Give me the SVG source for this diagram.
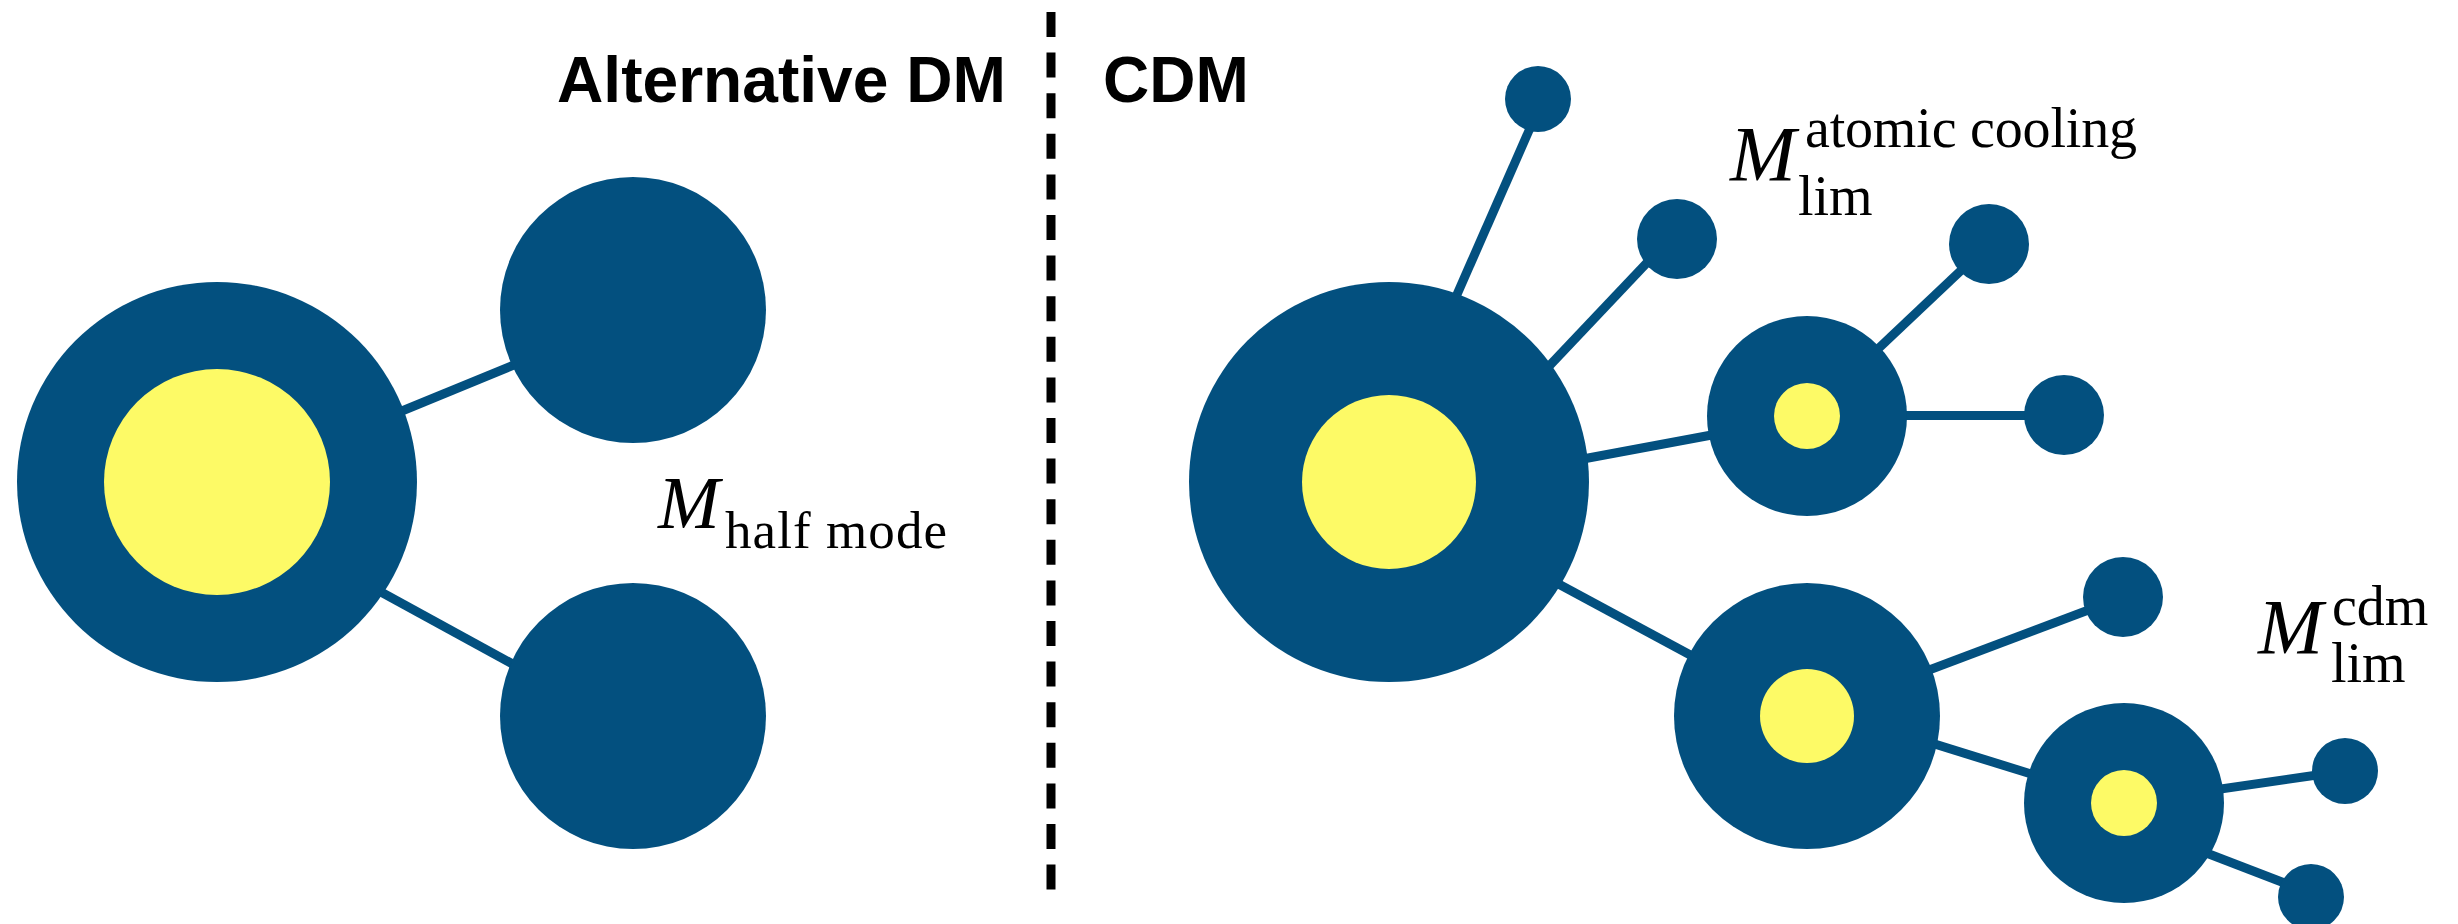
<svg xmlns="http://www.w3.org/2000/svg" width="2458" height="924" viewBox="0 0 2458 924">
  <style>
    .halo { fill: #03507f; }
    .core { fill: #fdfa66; }
    .link { stroke: #03507f; stroke-width: 9; stroke-linecap: butt; fill: none; }
    .divider { stroke: #000; stroke-width: 9; stroke-dasharray: 25 15.6; fill: none; }
    .title { font-family: "Liberation Sans", Arial, sans-serif; font-weight: bold; font-size: 64px; fill: #000; }
    .math { font-family: "Liberation Serif", "Times New Roman", serif; fill: #000; }
    .sym { font-style: italic; }
  </style>

  <rect width="2458" height="924" fill="#fff"/>

  <!-- panel divider -->
  <line class="divider" x1="1051" y1="12" x2="1051" y2="890"/>

  <!-- panel titles -->
  <text id="title-alt" class="title" x="557" y="102" textLength="449" lengthAdjust="spacingAndGlyphs">Alternative DM</text>
  <text id="title-cdm" class="title" x="1103" y="102">CDM</text>

  <!-- merger-tree branches (drawn beneath the halos) -->
  <g id="connectors">
    <!-- alternative DM tree -->
    <line class="link" x1="380" y1="420" x2="560" y2="346"/>
    <line class="link" x1="370" y1="586" x2="540" y2="679"/>
    <!-- CDM tree -->
    <line class="link" x1="1437" y1="340" x2="1538" y2="110"/>
    <line class="link" x1="1500" y1="418" x2="1677" y2="231"/>
    <line class="link" x1="1540" y1="467" x2="1760" y2="426"/>
    <line class="link" x1="1807" y1="416" x2="1989" y2="244"/>
    <line class="link" x1="1807" y1="415.5" x2="2064" y2="415.5"/>
    <line class="link" x1="1540" y1="574" x2="1720" y2="671"/>
    <line class="link" x1="1807" y1="716" x2="2123" y2="597"/>
    <line class="link" x1="1880" y1="727" x2="2060" y2="783"/>
    <line class="link" x1="2124" y1="803" x2="2345" y2="771"/>
    <line class="link" x1="2170" y1="839" x2="2300" y2="889"/>
  </g>

  <!-- alternative DM halos -->
  <g id="alt-main">
    <circle class="halo" cx="217" cy="482" r="200"/>
    <circle class="core" cx="217" cy="482" r="113"/>
  </g>
  <g id="alt-progenitor-upper">
    <circle class="halo" cx="633" cy="310" r="133"/>
  </g>
  <g id="alt-progenitor-lower">
    <circle class="halo" cx="633" cy="716" r="133"/>
  </g>

  <!-- CDM halos -->
  <g id="cdm-main">
    <circle class="halo" cx="1389" cy="482" r="200"/>
    <circle class="core" cx="1389" cy="482" r="87"/>
  </g>
  <g id="cdm-minihalo-top">
    <circle class="halo" cx="1538" cy="99" r="33"/>
  </g>
  <g id="cdm-minihalo-a">
    <circle class="halo" cx="1677" cy="239" r="40"/>
  </g>
  <g id="cdm-branch-1">
    <circle class="halo" cx="1807" cy="416" r="100"/>
    <circle class="core" cx="1807" cy="416" r="33"/>
  </g>
  <g id="cdm-minihalo-b">
    <circle class="halo" cx="1989" cy="244" r="40"/>
  </g>
  <g id="cdm-minihalo-c">
    <circle class="halo" cx="2064" cy="415" r="40"/>
  </g>
  <g id="cdm-branch-2">
    <circle class="halo" cx="1807" cy="716" r="133"/>
    <circle class="core" cx="1807" cy="716" r="47"/>
  </g>
  <g id="cdm-minihalo-d">
    <circle class="halo" cx="2123" cy="597" r="40"/>
  </g>
  <g id="cdm-branch-3">
    <circle class="halo" cx="2124" cy="803" r="100"/>
    <circle class="core" cx="2124" cy="803" r="33"/>
  </g>
  <g id="cdm-minihalo-e">
    <circle class="halo" cx="2345" cy="771" r="33"/>
  </g>
  <g id="cdm-minihalo-f">
    <circle class="halo" cx="2311" cy="897" r="33"/>
  </g>

  <!-- mass-scale labels -->
  <g id="labels" class="math">
    <g id="label-half-mode">
      <text class="sym" x="658" y="528" font-size="74">M</text>
      <text x="725" y="548" font-size="53" textLength="222">half mode</text>
    </g>
    <g id="label-atomic-cooling">
      <text class="sym" x="1730" y="180" font-size="79">M</text>
      <text x="1805" y="147" font-size="56" textLength="332">atomic cooling</text>
      <text x="1798" y="215" font-size="56">lim</text>
    </g>
    <g id="label-cdm">
      <text class="sym" x="2258" y="653" font-size="78">M</text>
      <text x="2332" y="625" font-size="56">cdm</text>
      <text x="2331" y="682" font-size="56">lim</text>
    </g>
  </g>
</svg>
